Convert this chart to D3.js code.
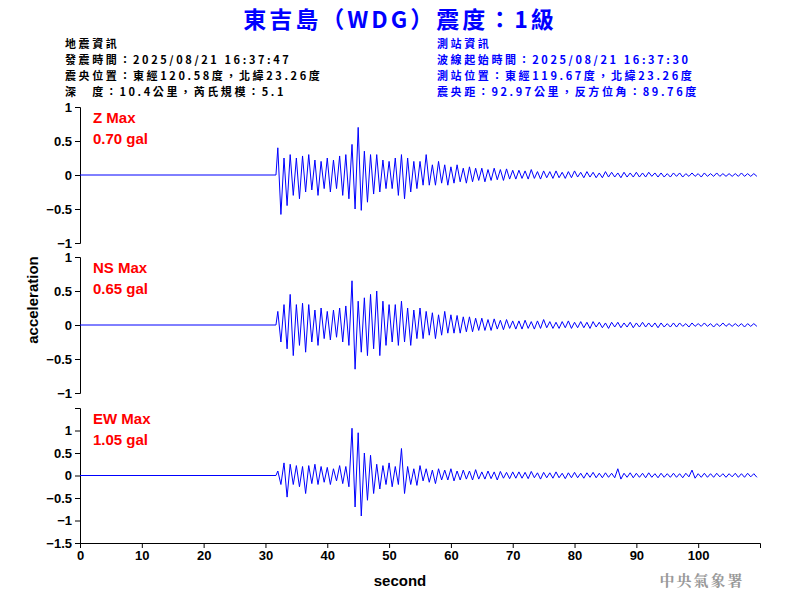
<!DOCTYPE html>
<html><head><meta charset="utf-8">
<script src="https://cdn.jsdelivr.net/npm/d3@7"></script>
<style>body{margin:0;background:#fff}</style></head>
<body><svg id="c" width="800" height="600"></svg>
<script>
const title = "東吉島（WDG）震度：1級";
const quakeInfo = ["地震資訊","發震時間：2025/08/21 16:37:47","震央位置：東經120.58度，北緯23.26度","深　度：10.4公里，芮氏規模：5.1"];
const stationInfo = ["測站資訊","波線起始時間：2025/08/21 16:37:30","測站位置：東經119.67度，北緯23.26度","震央距：92.97公里，反方位角：89.76度"];
const channels = ["Z","NS","EW"];
const maxLabels = ["0.70 gal","0.65 gal","1.05 gal"];
const xTicks = [0,10,20,30,40,50,60,70,80,90,100];
const yTicksA = [-1,-0.5,0,0.5,1];
const yTicksEW = [-1.5,-1,-0.5,0,0.5,1];
const onset = 32, step = 0.5;
const zVals = [0.4,-0.58,0.25,-0.45,0.3,-0.3,0.25,-0.35,0.28,-0.25,0.3,-0.22,0.22,-0.3,0.2,-0.2,0.25,-0.25,0.22,-0.2,
0.28,-0.3,0.3,-0.35,0.45,-0.5,0.7,-0.52,0.35,-0.4,0.3,-0.28,0.3,-0.25,0.22,-0.2,0.2,-0.2,0.25,-0.3,
0.3,-0.35,0.25,-0.25,0.2,-0.2,0.2,-0.15,0.3,-0.15,0.15,-0.15,0.2,-0.12,0.15,-0.15,0.12,-0.12,0.15,-0.1,
0.1,-0.12,0.12,-0.1,0.1,-0.08,0.1,-0.1,0.08,-0.08,0.1,-0.07,0.08,-0.08,0.09,-0.06,0.07,-0.06,
0.07,-0.05,0.06,-0.06,0.08,-0.05,0.05,-0.06,0.06,-0.04,0.05,-0.05,0.06,-0.04,0.04,-0.05,0.05,-0.04,0.06,-0.03,
0.04,-0.04,0.05,-0.03,0.04,-0.04,0.03,-0.04,0.05,-0.03,0.04,-0.03,0.03,-0.04,0.04,-0.03,0.03,-0.03,0.04,-0.03,
0.03,-0.03,0.04,-0.02,0.03,-0.03,0.03,-0.03,0.02,-0.03,0.03,-0.02,0.03,-0.03,0.02,-0.02,0.03,-0.02,0.02,-0.03,
0.03,-0.02,0.02,-0.02,0.03,-0.02,0.02,-0.02,0.02,-0.02,0.02,-0.02,0.03,-0.02,0.02,-0.02,0.02,-0.02];
const nsVals = [0.2,-0.25,0.3,-0.35,0.45,-0.45,0.3,-0.3,0.32,-0.4,0.3,-0.25,0.22,-0.3,0.25,-0.2,0.2,-0.22,0.22,-0.18,
0.25,-0.25,0.28,-0.3,0.65,-0.65,0.35,-0.4,0.4,-0.45,0.45,-0.35,0.5,-0.45,0.35,-0.3,0.3,-0.25,0.3,-0.3,
0.35,-0.25,0.25,-0.3,0.22,-0.2,0.25,-0.2,0.2,-0.15,0.18,-0.2,0.15,-0.15,0.2,-0.12,0.15,-0.12,0.14,-0.12,
0.12,-0.1,0.12,-0.1,0.1,-0.08,0.1,-0.08,0.08,-0.08,0.09,-0.06,0.07,-0.07,0.08,-0.05,0.06,-0.06,
0.06,-0.06,0.07,-0.05,0.05,-0.06,0.06,-0.05,0.08,-0.04,0.05,-0.05,0.04,-0.05,0.05,-0.04,0.06,-0.05,0.04,-0.04,
0.05,-0.04,0.04,-0.05,0.05,-0.03,0.04,-0.04,0.03,-0.05,0.04,-0.03,0.04,-0.04,0.03,-0.03,0.04,-0.04,0.03,-0.03,
0.04,-0.03,0.03,-0.03,0.03,-0.04,0.03,-0.03,0.02,-0.03,0.03,-0.03,0.03,-0.02,0.02,-0.03,0.03,-0.02,0.02,-0.02,
0.03,-0.02,0.02,-0.03,0.02,-0.02,0.03,-0.02,0.02,-0.02,0.02,-0.02,0.02,-0.03,0.02,-0.02,0.02,-0.02];
const ewVals = [0.1,-0.2,0.28,-0.48,0.25,-0.2,0.22,-0.25,0.2,-0.4,0.22,-0.18,0.25,-0.2,0.2,-0.15,0.18,-0.2,0.15,-0.12,
0.22,-0.18,0.2,-0.25,1.05,-0.7,0.95,-0.9,0.5,-0.55,0.45,-0.4,0.25,-0.3,0.22,-0.2,0.28,-0.25,0.2,-0.2,
0.6,-0.4,0.2,-0.2,0.15,-0.22,0.22,-0.12,0.15,-0.15,0.12,-0.18,0.15,-0.1,0.12,-0.1,0.15,-0.12,0.1,-0.1,
0.12,-0.08,0.1,-0.1,0.13,-0.08,0.08,-0.08,0.1,-0.07,0.08,-0.1,0.09,-0.06,0.07,-0.07,0.08,-0.06,
0.08,-0.06,0.07,-0.07,0.09,-0.05,0.06,-0.08,0.07,-0.05,0.06,-0.06,0.08,-0.05,0.05,-0.07,0.06,-0.05,0.07,-0.05,
0.05,-0.06,0.06,-0.04,0.07,-0.05,0.05,-0.05,0.06,-0.04,0.05,-0.05,0.15,-0.08,0.05,-0.04,0.06,-0.05,0.05,-0.04,
0.05,-0.05,0.06,-0.04,0.04,-0.05,0.05,-0.04,0.04,-0.04,0.05,-0.04,0.04,-0.05,0.05,-0.03,0.12,-0.06,0.04,-0.04,
0.05,-0.04,0.04,-0.04,0.05,-0.03,0.04,-0.04,0.04,-0.03,0.05,-0.04,0.04,-0.04,0.05,-0.03,0.04,-0.04];
const series = [zVals, nsVals, ewVals];

const svg = d3.select("#c");
const F = "'Liberation Sans', Arial, sans-serif";
const CJK = "'Noto Sans CJK TC', sans-serif";
svg.append("text").attr("x",400).attr("y",28).attr("text-anchor","middle").attr("fill","#0000ff")
  .attr("font-family",CJK).attr("font-weight","bold").attr("font-size",23).attr("letter-spacing",3).text(title);
quakeInfo.forEach((t,i)=>svg.append("text").attr("x",65).attr("y",48+i*16).attr("font-family",CJK)
  .attr("font-size",11).attr("letter-spacing",2.6).attr("font-weight","bold").attr("fill","#000").text(t));
stationInfo.forEach((t,i)=>svg.append("text").attr("x",437).attr("y",48+i*16).attr("font-family",CJK)
  .attr("font-size",11).attr("letter-spacing",2.6).attr("font-weight","bold").attr("fill","#0000ff").text(t));

const x = d3.scaleLinear().domain([0,110]).range([80,760]);
const panels = [
  {dom:[-1,1], rng:[243,107], ticks:yTicksA},
  {dom:[-1,1], rng:[393,257], ticks:yTicksA},
  {dom:[-1.5,1.5], rng:[543,408], ticks:yTicksEW}
];
panels.forEach((p,i)=>{
  const y = d3.scaleLinear().domain(p.dom).range(p.rng);
  const g = svg.append("g").attr("transform","translate(80,0)")
    .call(d3.axisLeft(y).tickValues(p.ticks).tickFormat(d3.format("")).tickSizeOuter(0).tickSize(5));
  g.select(".domain").attr("stroke","#000");
  g.selectAll("text").attr("font-family",F).attr("font-weight","bold").attr("font-size",13);
  const pts = [[0,0],[onset-0.3,0]].concat(series[i].map((v,k)=>[onset+k*step, v]));
  svg.append("path").attr("d", d3.line().x(d=>x(d[0])).y(d=>y(d[1]))(pts))
    .attr("fill","none").attr("stroke","#0000ff").attr("stroke-width",1);
  svg.append("text").attr("x",93).attr("y",p.rng[1]+16).attr("fill","#ff0000").attr("font-family",F)
    .attr("font-size",15).attr("font-weight","bold").text(channels[i]+" Max");
  svg.append("text").attr("x",93).attr("y",p.rng[1]+37).attr("fill","#ff0000").attr("font-family",F)
    .attr("font-size",15).attr("font-weight","bold").text(maxLabels[i]);
});
const gx = svg.append("g").attr("transform","translate(0,543)")
  .call(d3.axisBottom(x).tickValues(xTicks).tickSizeOuter(0).tickSize(5));
gx.selectAll("text").attr("font-family",F).attr("font-weight","bold").attr("font-size",13);
svg.append("text").attr("x",400).attr("y",586).attr("text-anchor","middle").attr("font-family",F)
  .attr("font-weight","bold").attr("font-size",15).text("second");
svg.append("text").attr("transform","translate(38,300) rotate(-90)").attr("text-anchor","middle")
  .attr("font-family",F).attr("font-weight","bold").attr("font-size",15).text("acceleration");
svg.append("text").attr("x",702).attr("y",586).attr("text-anchor","middle").attr("font-family","'Noto Serif CJK TC', "+CJK)
  .attr("font-weight","bold").attr("font-size",15).attr("letter-spacing",2).attr("fill","#999").text("中央氣象署");
</script></body></html>
